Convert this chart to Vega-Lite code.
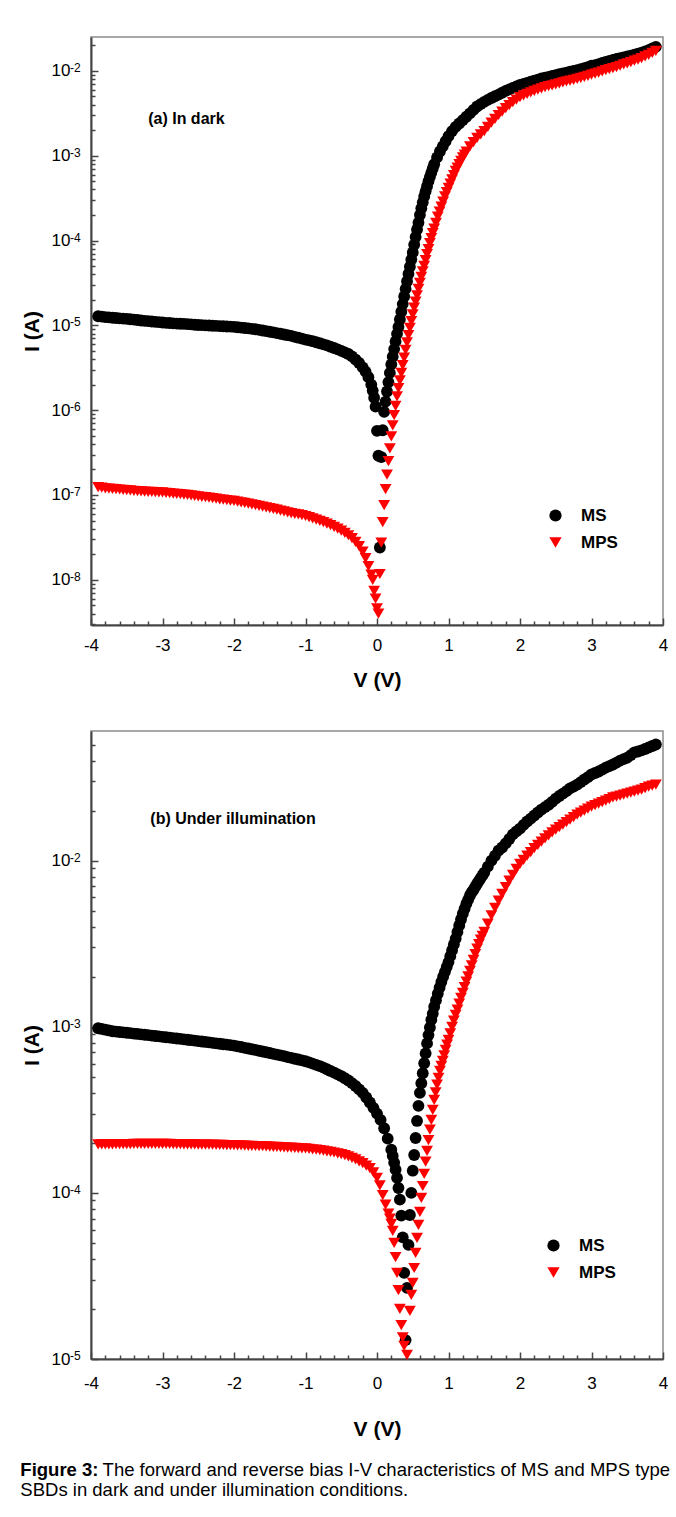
{
  "$schema": "https://vega.github.io/schema/vega-lite/v6.json",
  "padding": {"left": 20, "top": 36, "right": 5, "bottom": 5},
  "background": "white",
  "config": {
    "font": "Liberation Sans",
    "view": {"stroke": "#8c8c8c", "strokeWidth": 1.5},
    "axis": {"grid": false, "domainColor": "#444", "domainWidth": 2, "tickColor": "#444", "tickWidth": 1.5, "labelColor": "#000", "labelFontSize": 17, "labelFont": "Liberation Sans", "titleFont": "Liberation Sans", "titleFontSize": 21, "titleFontWeight": "bold", "titleColor": "#000", "labelFlush": false, "labelOverlap": false, "labelBound": false}
  },
  "title": {
    "text": "Figure 3:",
    "subtitle": ["\u200b\u00a0\u00a0\u00a0\u00a0\u00a0\u00a0\u00a0\u00a0\u00a0\u00a0\u00a0\u00a0\u00a0\u00a0\u00a0\u00a0The forward and reverse bias I-V characteristics of MS and MPS type", "SBDs in dark and under illumination conditions."],
    "orient": "bottom", "anchor": "start", "frame": "bounds",
    "font": "Liberation Sans", "fontSize": 18.5, "fontWeight": "bold", "color": "#000",
    "subtitleFont": "Liberation Sans", "subtitleFontSize": 18.5, "subtitleFontWeight": "normal", "subtitleColor": "#000",
    "subtitlePadding": -18.5, "subtitleLineHeight": 20, "lineHeight": 20, "offset": 21
  },
  "spacing": 39,
  "resolve": {"scale": {"color": "independent", "shape": "independent"}},
  "datasets": {
    "ea": [{"e":1e-8,"t":"-8"},{"e":1e-7,"t":"-7"},{"e":1e-6,"t":"-6"},{"e":1e-5,"t":"-5"},{"e":1e-4,"t":"-4"},{"e":1e-3,"t":"-3"},{"e":1e-2,"t":"-2"}],
    "eb": [{"e":1e-5,"t":"-5"},{"e":1e-4,"t":"-4"},{"e":1e-3,"t":"-3"},{"e":1e-2,"t":"-2"}],
    "a": [
      {"s":"MS","v":-3.9,"i":1.28e-5},{"s":"MS","v":-3.85,"i":1.265e-5},{"s":"MS","v":-3.8,"i":1.25e-5},{"s":"MS","v":-3.75,"i":1.24e-5},{"s":"MS","v":-3.7,"i":1.23e-5},{"s":"MS","v":-3.65,"i":1.22e-5},{"s":"MS","v":-3.6,"i":1.21e-5},{"s":"MS","v":-3.55,"i":1.2e-5},{"s":"MS","v":-3.5,"i":1.19e-5},{"s":"MS","v":-3.45,"i":1.18e-5},
      {"s":"MS","v":-3.4,"i":1.17e-5},{"s":"MS","v":-3.35,"i":1.155e-5},{"s":"MS","v":-3.3,"i":1.14e-5},{"s":"MS","v":-3.25,"i":1.13e-5},{"s":"MS","v":-3.2,"i":1.12e-5},{"s":"MS","v":-3.15,"i":1.11e-5},{"s":"MS","v":-3.1,"i":1.10e-5},{"s":"MS","v":-3.05,"i":1.09e-5},{"s":"MS","v":-3.0,"i":1.08e-5},{"s":"MS","v":-2.95,"i":1.07e-5},
      {"s":"MS","v":-2.9,"i":1.065e-5},{"s":"MS","v":-2.85,"i":1.057e-5},{"s":"MS","v":-2.8,"i":1.05e-5},{"s":"MS","v":-2.75,"i":1.045e-5},{"s":"MS","v":-2.7,"i":1.04e-5},{"s":"MS","v":-2.65,"i":1.032e-5},{"s":"MS","v":-2.6,"i":1.025e-5},{"s":"MS","v":-2.55,"i":1.017e-5},{"s":"MS","v":-2.5,"i":1.01e-5},{"s":"MS","v":-2.45,"i":1.005e-5},
      {"s":"MS","v":-2.4,"i":1.0e-5},{"s":"MS","v":-2.35,"i":9.95e-6},{"s":"MS","v":-2.3,"i":9.9e-6},{"s":"MS","v":-2.25,"i":9.85e-6},{"s":"MS","v":-2.2,"i":9.8e-6},{"s":"MS","v":-2.15,"i":9.75e-6},{"s":"MS","v":-2.1,"i":9.7e-6},{"s":"MS","v":-2.05,"i":9.65e-6},{"s":"MS","v":-2.0,"i":9.6e-6},{"s":"MS","v":-1.95,"i":9.5e-6},
      {"s":"MS","v":-1.9,"i":9.4e-6},{"s":"MS","v":-1.85,"i":9.3e-6},{"s":"MS","v":-1.8,"i":9.2e-6},{"s":"MS","v":-1.75,"i":9.1e-6},{"s":"MS","v":-1.7,"i":9.0e-6},{"s":"MS","v":-1.65,"i":8.85e-6},{"s":"MS","v":-1.6,"i":8.7e-6},{"s":"MS","v":-1.55,"i":8.55e-6},{"s":"MS","v":-1.5,"i":8.4e-6},{"s":"MS","v":-1.45,"i":8.25e-6},
      {"s":"MS","v":-1.4,"i":8.1e-6},{"s":"MS","v":-1.35,"i":7.95e-6},{"s":"MS","v":-1.3,"i":7.8e-6},{"s":"MS","v":-1.25,"i":7.65e-6},{"s":"MS","v":-1.2,"i":7.5e-6},{"s":"MS","v":-1.15,"i":7.3e-6},{"s":"MS","v":-1.1,"i":7.15e-6},{"s":"MS","v":-1.05,"i":6.97e-6},{"s":"MS","v":-1.0,"i":6.8e-6},{"s":"MS","v":-0.95,"i":6.65e-6},
      {"s":"MS","v":-0.9,"i":6.5e-6},{"s":"MS","v":-0.85,"i":6.32e-6},{"s":"MS","v":-0.8,"i":6.15e-6},{"s":"MS","v":-0.75,"i":5.97e-6},{"s":"MS","v":-0.7,"i":5.8e-6},{"s":"MS","v":-0.65,"i":5.6e-6},{"s":"MS","v":-0.6,"i":5.4e-6},{"s":"MS","v":-0.55,"i":5.2e-6},{"s":"MS","v":-0.5,"i":5.0e-6},{"s":"MS","v":-0.45,"i":4.8e-6},
      {"s":"MS","v":-0.4,"i":4.6e-6},{"s":"MS","v":-0.35,"i":4.3e-6},{"s":"MS","v":-0.3,"i":3.95e-6},{"s":"MS","v":-0.25,"i":3.6e-6},{"s":"MS","v":-0.2,"i":3.2e-6},{"s":"MS","v":-0.16,"i":2.85e-6},{"s":"MS","v":-0.12,"i":2.45e-6},{"s":"MS","v":-0.08,"i":2.0e-6},{"s":"MS","v":-0.06,"i":1.7e-6},{"s":"MS","v":-0.04,"i":1.4e-6},
      {"s":"MS","v":-0.02,"i":1.1e-6},{"s":"MS","v":0.0,"i":5.7e-7},{"s":"MS","v":0.02,"i":2.9e-7},{"s":"MS","v":0.04,"i":2.4e-8},{"s":"MS","v":0.06,"i":2.8e-7},{"s":"MS","v":0.08,"i":5.8e-7},{"s":"MS","v":0.1,"i":9.55e-7},{"s":"MS","v":0.12,"i":1.26e-6},{"s":"MS","v":0.14,"i":1.66e-6},{"s":"MS","v":0.16,"i":2.14e-6},
      {"s":"MS","v":0.18,"i":2.75e-6},{"s":"MS","v":0.2,"i":3.47e-6},{"s":"MS","v":0.22,"i":4.27e-6},{"s":"MS","v":0.24,"i":5.25e-6},{"s":"MS","v":0.26,"i":6.46e-6},{"s":"MS","v":0.28,"i":7.94e-6},{"s":"MS","v":0.3,"i":9.55e-6},{"s":"MS","v":0.32,"i":1.175e-5},{"s":"MS","v":0.34,"i":1.445e-5},{"s":"MS","v":0.36,"i":1.78e-5},
      {"s":"MS","v":0.38,"i":2.19e-5},{"s":"MS","v":0.4,"i":2.69e-5},{"s":"MS","v":0.42,"i":3.31e-5},{"s":"MS","v":0.44,"i":4.03e-5},{"s":"MS","v":0.46,"i":4.9e-5},{"s":"MS","v":0.48,"i":5.96e-5},{"s":"MS","v":0.5,"i":7.24e-5},{"s":"MS","v":0.52,"i":8.91e-5},{"s":"MS","v":0.54,"i":1.1e-4},{"s":"MS","v":0.56,"i":1.35e-4},
      {"s":"MS","v":0.58,"i":1.62e-4},{"s":"MS","v":0.6,"i":2.0e-4},{"s":"MS","v":0.62,"i":2.4e-4},{"s":"MS","v":0.64,"i":2.82e-4},{"s":"MS","v":0.66,"i":3.31e-4},{"s":"MS","v":0.68,"i":3.8e-4},{"s":"MS","v":0.7,"i":4.37e-4},{"s":"MS","v":0.72,"i":5.01e-4},{"s":"MS","v":0.74,"i":5.62e-4},{"s":"MS","v":0.76,"i":6.31e-4},
      {"s":"MS","v":0.78,"i":7.08e-4},{"s":"MS","v":0.8,"i":7.94e-4},{"s":"MS","v":0.84,"i":9.55e-4},{"s":"MS","v":0.88,"i":1.12e-3},{"s":"MS","v":0.92,"i":1.29e-3},{"s":"MS","v":0.96,"i":1.48e-3},{"s":"MS","v":1.0,"i":1.7e-3},{"s":"MS","v":1.05,"i":1.95e-3},{"s":"MS","v":1.1,"i":2.19e-3},{"s":"MS","v":1.15,"i":2.4e-3},
      {"s":"MS","v":1.2,"i":2.63e-3},{"s":"MS","v":1.25,"i":2.88e-3},{"s":"MS","v":1.3,"i":3.16e-3},{"s":"MS","v":1.35,"i":3.47e-3},{"s":"MS","v":1.4,"i":3.8e-3},{"s":"MS","v":1.45,"i":4.06e-3},{"s":"MS","v":1.5,"i":4.32e-3},{"s":"MS","v":1.55,"i":4.55e-3},{"s":"MS","v":1.6,"i":4.79e-3},{"s":"MS","v":1.65,"i":5.02e-3},
      {"s":"MS","v":1.7,"i":5.25e-3},{"s":"MS","v":1.75,"i":5.53e-3},{"s":"MS","v":1.8,"i":5.81e-3},{"s":"MS","v":1.85,"i":6.06e-3},{"s":"MS","v":1.9,"i":6.31e-3},{"s":"MS","v":1.95,"i":6.57e-3},{"s":"MS","v":2.0,"i":6.84e-3},{"s":"MS","v":2.05,"i":7.04e-3},{"s":"MS","v":2.1,"i":7.24e-3},{"s":"MS","v":2.15,"i":7.45e-3},
      {"s":"MS","v":2.2,"i":7.67e-3},{"s":"MS","v":2.25,"i":7.9e-3},{"s":"MS","v":2.3,"i":8.13e-3},{"s":"MS","v":2.35,"i":8.32e-3},{"s":"MS","v":2.4,"i":8.51e-3},{"s":"MS","v":2.45,"i":8.71e-3},{"s":"MS","v":2.5,"i":8.91e-3},{"s":"MS","v":2.55,"i":9.12e-3},{"s":"MS","v":2.6,"i":9.33e-3},{"s":"MS","v":2.65,"i":9.55e-3},
      {"s":"MS","v":2.7,"i":9.77e-3},{"s":"MS","v":2.75,"i":1.0e-2},{"s":"MS","v":2.8,"i":1.023e-2},{"s":"MS","v":2.85,"i":1.05e-2},{"s":"MS","v":2.9,"i":1.08e-2},{"s":"MS","v":2.95,"i":1.11e-2},{"s":"MS","v":3.0,"i":1.15e-2},{"s":"MS","v":3.05,"i":1.17e-2},{"s":"MS","v":3.1,"i":1.2e-2},{"s":"MS","v":3.15,"i":1.24e-2},
      {"s":"MS","v":3.2,"i":1.28e-2},{"s":"MS","v":3.25,"i":1.31e-2},{"s":"MS","v":3.3,"i":1.35e-2},{"s":"MS","v":3.35,"i":1.38e-2},{"s":"MS","v":3.4,"i":1.41e-2},{"s":"MS","v":3.45,"i":1.44e-2},{"s":"MS","v":3.5,"i":1.48e-2},{"s":"MS","v":3.55,"i":1.51e-2},{"s":"MS","v":3.6,"i":1.55e-2},{"s":"MS","v":3.65,"i":1.6e-2},
      {"s":"MS","v":3.7,"i":1.64e-2},{"s":"MS","v":3.75,"i":1.7e-2},{"s":"MS","v":3.8,"i":1.76e-2},{"s":"MS","v":3.85,"i":1.84e-2},{"s":"MS","v":3.9,"i":1.92e-2},
      {"s":"MPS","v":-3.9,"i":1.24e-7},{"s":"MPS","v":-3.85,"i":1.22e-7},{"s":"MPS","v":-3.8,"i":1.2e-7},{"s":"MPS","v":-3.75,"i":1.19e-7},{"s":"MPS","v":-3.7,"i":1.18e-7},{"s":"MPS","v":-3.65,"i":1.17e-7},{"s":"MPS","v":-3.6,"i":1.16e-7},{"s":"MPS","v":-3.55,"i":1.15e-7},{"s":"MPS","v":-3.5,"i":1.14e-7},{"s":"MPS","v":-3.45,"i":1.13e-7},
      {"s":"MPS","v":-3.4,"i":1.12e-7},{"s":"MPS","v":-3.35,"i":1.11e-7},{"s":"MPS","v":-3.3,"i":1.1e-7},{"s":"MPS","v":-3.25,"i":1.095e-7},{"s":"MPS","v":-3.2,"i":1.09e-7},{"s":"MPS","v":-3.15,"i":1.085e-7},{"s":"MPS","v":-3.1,"i":1.08e-7},{"s":"MPS","v":-3.05,"i":1.075e-7},{"s":"MPS","v":-3.0,"i":1.07e-7},{"s":"MPS","v":-2.95,"i":1.06e-7},
      {"s":"MPS","v":-2.9,"i":1.05e-7},{"s":"MPS","v":-2.85,"i":1.04e-7},{"s":"MPS","v":-2.8,"i":1.03e-7},{"s":"MPS","v":-2.75,"i":1.02e-7},{"s":"MPS","v":-2.7,"i":1.01e-7},{"s":"MPS","v":-2.65,"i":1.0e-7},{"s":"MPS","v":-2.6,"i":9.9e-8},{"s":"MPS","v":-2.55,"i":9.75e-8},{"s":"MPS","v":-2.5,"i":9.6e-8},{"s":"MPS","v":-2.45,"i":9.5e-8},
      {"s":"MPS","v":-2.4,"i":9.4e-8},{"s":"MPS","v":-2.35,"i":9.3e-8},{"s":"MPS","v":-2.3,"i":9.2e-8},{"s":"MPS","v":-2.25,"i":9.05e-8},{"s":"MPS","v":-2.2,"i":8.9e-8},{"s":"MPS","v":-2.15,"i":8.8e-8},{"s":"MPS","v":-2.1,"i":8.7e-8},{"s":"MPS","v":-2.05,"i":8.6e-8},{"s":"MPS","v":-2.0,"i":8.5e-8},{"s":"MPS","v":-1.95,"i":8.35e-8},
      {"s":"MPS","v":-1.9,"i":8.2e-8},{"s":"MPS","v":-1.85,"i":8.05e-8},{"s":"MPS","v":-1.8,"i":7.9e-8},{"s":"MPS","v":-1.75,"i":7.75e-8},{"s":"MPS","v":-1.7,"i":7.6e-8},{"s":"MPS","v":-1.65,"i":7.45e-8},{"s":"MPS","v":-1.6,"i":7.3e-8},{"s":"MPS","v":-1.55,"i":7.15e-8},{"s":"MPS","v":-1.5,"i":7.0e-8},{"s":"MPS","v":-1.45,"i":6.85e-8},
      {"s":"MPS","v":-1.4,"i":6.7e-8},{"s":"MPS","v":-1.35,"i":6.55e-8},{"s":"MPS","v":-1.3,"i":6.4e-8},{"s":"MPS","v":-1.25,"i":6.25e-8},{"s":"MPS","v":-1.2,"i":6.1e-8},{"s":"MPS","v":-1.15,"i":6.0e-8},{"s":"MPS","v":-1.1,"i":5.9e-8},{"s":"MPS","v":-1.05,"i":5.77e-8},{"s":"MPS","v":-1.0,"i":5.65e-8},{"s":"MPS","v":-0.95,"i":5.47e-8},
      {"s":"MPS","v":-0.9,"i":5.3e-8},{"s":"MPS","v":-0.85,"i":5.12e-8},{"s":"MPS","v":-0.8,"i":4.95e-8},{"s":"MPS","v":-0.75,"i":4.77e-8},{"s":"MPS","v":-0.7,"i":4.6e-8},{"s":"MPS","v":-0.65,"i":4.4e-8},{"s":"MPS","v":-0.6,"i":4.2e-8},{"s":"MPS","v":-0.55,"i":4.0e-8},{"s":"MPS","v":-0.5,"i":3.8e-8},{"s":"MPS","v":-0.45,"i":3.57e-8},
      {"s":"MPS","v":-0.4,"i":3.35e-8},{"s":"MPS","v":-0.35,"i":3.1e-8},{"s":"MPS","v":-0.3,"i":2.8e-8},{"s":"MPS","v":-0.25,"i":2.5e-8},{"s":"MPS","v":-0.2,"i":2.15e-8},{"s":"MPS","v":-0.16,"i":1.8e-8},{"s":"MPS","v":-0.12,"i":1.45e-8},{"s":"MPS","v":-0.08,"i":1.15e-8},{"s":"MPS","v":-0.06,"i":1.0e-8},{"s":"MPS","v":-0.04,"i":7.4e-9},
      {"s":"MPS","v":-0.02,"i":6.0e-9},{"s":"MPS","v":0.0,"i":4.6e-9},{"s":"MPS","v":0.02,"i":4.0e-9},{"s":"MPS","v":0.04,"i":1.17e-8},{"s":"MPS","v":0.06,"i":2.75e-8},{"s":"MPS","v":0.08,"i":4.79e-8},{"s":"MPS","v":0.1,"i":7.59e-8},{"s":"MPS","v":0.12,"i":1.17e-7},{"s":"MPS","v":0.14,"i":1.74e-7},{"s":"MPS","v":0.16,"i":2.51e-7},
      {"s":"MPS","v":0.18,"i":3.55e-7},{"s":"MPS","v":0.2,"i":4.9e-7},{"s":"MPS","v":0.22,"i":6.61e-7},{"s":"MPS","v":0.24,"i":8.71e-7},{"s":"MPS","v":0.26,"i":1.12e-6},{"s":"MPS","v":0.28,"i":1.45e-6},{"s":"MPS","v":0.3,"i":1.82e-6},{"s":"MPS","v":0.32,"i":2.24e-6},{"s":"MPS","v":0.34,"i":2.75e-6},{"s":"MPS","v":0.36,"i":3.39e-6},
      {"s":"MPS","v":0.38,"i":4.17e-6},{"s":"MPS","v":0.4,"i":5.13e-6},{"s":"MPS","v":0.42,"i":6.31e-6},{"s":"MPS","v":0.44,"i":7.67e-6},{"s":"MPS","v":0.46,"i":9.33e-6},{"s":"MPS","v":0.48,"i":1.12e-5},{"s":"MPS","v":0.5,"i":1.35e-5},{"s":"MPS","v":0.52,"i":1.62e-5},{"s":"MPS","v":0.54,"i":1.91e-5},{"s":"MPS","v":0.56,"i":2.26e-5},
      {"s":"MPS","v":0.58,"i":2.69e-5},{"s":"MPS","v":0.6,"i":3.16e-5},{"s":"MPS","v":0.62,"i":3.72e-5},{"s":"MPS","v":0.64,"i":4.32e-5},{"s":"MPS","v":0.66,"i":5.01e-5},{"s":"MPS","v":0.68,"i":5.89e-5},{"s":"MPS","v":0.7,"i":6.92e-5},{"s":"MPS","v":0.72,"i":7.94e-5},{"s":"MPS","v":0.74,"i":9.33e-5},{"s":"MPS","v":0.76,"i":1.07e-4},
      {"s":"MPS","v":0.78,"i":1.22e-4},{"s":"MPS","v":0.8,"i":1.38e-4},{"s":"MPS","v":0.825,"i":1.62e-4},{"s":"MPS","v":0.85,"i":1.91e-4},{"s":"MPS","v":0.875,"i":2.19e-4},{"s":"MPS","v":0.9,"i":2.51e-4},{"s":"MPS","v":0.925,"i":2.88e-4},{"s":"MPS","v":0.95,"i":3.31e-4},{"s":"MPS","v":0.975,"i":3.72e-4},{"s":"MPS","v":1.0,"i":4.17e-4},
      {"s":"MPS","v":1.025,"i":4.68e-4},{"s":"MPS","v":1.05,"i":5.25e-4},{"s":"MPS","v":1.075,"i":5.89e-4},{"s":"MPS","v":1.1,"i":6.61e-4},{"s":"MPS","v":1.125,"i":7.24e-4},{"s":"MPS","v":1.15,"i":7.94e-4},{"s":"MPS","v":1.175,"i":8.71e-4},{"s":"MPS","v":1.2,"i":9.55e-4},{"s":"MPS","v":1.225,"i":1.03e-3},{"s":"MPS","v":1.25,"i":1.12e-3},
      {"s":"MPS","v":1.3,"i":1.29e-3},{"s":"MPS","v":1.35,"i":1.45e-3},{"s":"MPS","v":1.4,"i":1.62e-3},{"s":"MPS","v":1.45,"i":1.78e-3},{"s":"MPS","v":1.5,"i":1.95e-3},{"s":"MPS","v":1.55,"i":2.19e-3},{"s":"MPS","v":1.6,"i":2.45e-3},{"s":"MPS","v":1.65,"i":2.72e-3},{"s":"MPS","v":1.7,"i":3.02e-3},{"s":"MPS","v":1.75,"i":3.31e-3},
      {"s":"MPS","v":1.8,"i":3.63e-3},{"s":"MPS","v":1.85,"i":3.94e-3},{"s":"MPS","v":1.9,"i":4.27e-3},{"s":"MPS","v":1.95,"i":4.57e-3},{"s":"MPS","v":2.0,"i":4.9e-3},{"s":"MPS","v":2.05,"i":5.13e-3},{"s":"MPS","v":2.1,"i":5.37e-3},{"s":"MPS","v":2.15,"i":5.6e-3},{"s":"MPS","v":2.2,"i":5.82e-3},{"s":"MPS","v":2.25,"i":6.03e-3},
      {"s":"MPS","v":2.3,"i":6.24e-3},{"s":"MPS","v":2.35,"i":6.42e-3},{"s":"MPS","v":2.4,"i":6.61e-3},{"s":"MPS","v":2.45,"i":6.76e-3},{"s":"MPS","v":2.5,"i":6.92e-3},{"s":"MPS","v":2.55,"i":7.12e-3},{"s":"MPS","v":2.6,"i":7.33e-3},{"s":"MPS","v":2.65,"i":7.5e-3},{"s":"MPS","v":2.7,"i":7.67e-3},{"s":"MPS","v":2.75,"i":7.86e-3},
      {"s":"MPS","v":2.8,"i":8.05e-3},{"s":"MPS","v":2.85,"i":8.28e-3},{"s":"MPS","v":2.9,"i":8.51e-3},{"s":"MPS","v":2.95,"i":8.76e-3},{"s":"MPS","v":3.0,"i":9.02e-3},{"s":"MPS","v":3.05,"i":9.28e-3},{"s":"MPS","v":3.1,"i":9.55e-3},{"s":"MPS","v":3.15,"i":9.87e-3},{"s":"MPS","v":3.2,"i":1.02e-2},{"s":"MPS","v":3.25,"i":1.05e-2},
      {"s":"MPS","v":3.3,"i":1.08e-2},{"s":"MPS","v":3.35,"i":1.11e-2},{"s":"MPS","v":3.4,"i":1.15e-2},{"s":"MPS","v":3.45,"i":1.19e-2},{"s":"MPS","v":3.5,"i":1.23e-2},{"s":"MPS","v":3.55,"i":1.27e-2},{"s":"MPS","v":3.6,"i":1.32e-2},{"s":"MPS","v":3.65,"i":1.36e-2},{"s":"MPS","v":3.7,"i":1.41e-2},{"s":"MPS","v":3.75,"i":1.48e-2},
      {"s":"MPS","v":3.8,"i":1.55e-2},{"s":"MPS","v":3.85,"i":1.63e-2},{"s":"MPS","v":3.9,"i":1.72e-2}
    ],
    "b": [
      {"s":"MS","v":-3.9,"i":9.8e-4},{"s":"MS","v":-3.85,"i":9.7e-4},{"s":"MS","v":-3.8,"i":9.6e-4},{"s":"MS","v":-3.75,"i":9.5e-4},{"s":"MS","v":-3.7,"i":9.4e-4},{"s":"MS","v":-3.65,"i":9.35e-4},{"s":"MS","v":-3.6,"i":9.3e-4},{"s":"MS","v":-3.55,"i":9.25e-4},{"s":"MS","v":-3.5,"i":9.2e-4},{"s":"MS","v":-3.45,"i":9.15e-4},
      {"s":"MS","v":-3.4,"i":9.1e-4},{"s":"MS","v":-3.35,"i":9.05e-4},{"s":"MS","v":-3.3,"i":9.0e-4},{"s":"MS","v":-3.25,"i":8.95e-4},{"s":"MS","v":-3.2,"i":8.9e-4},{"s":"MS","v":-3.15,"i":8.85e-4},{"s":"MS","v":-3.1,"i":8.8e-4},{"s":"MS","v":-3.05,"i":8.75e-4},{"s":"MS","v":-3.0,"i":8.7e-4},{"s":"MS","v":-2.95,"i":8.65e-4},
      {"s":"MS","v":-2.9,"i":8.6e-4},{"s":"MS","v":-2.85,"i":8.55e-4},{"s":"MS","v":-2.8,"i":8.5e-4},{"s":"MS","v":-2.75,"i":8.45e-4},{"s":"MS","v":-2.7,"i":8.4e-4},{"s":"MS","v":-2.65,"i":8.35e-4},{"s":"MS","v":-2.6,"i":8.3e-4},{"s":"MS","v":-2.55,"i":8.25e-4},{"s":"MS","v":-2.5,"i":8.2e-4},{"s":"MS","v":-2.45,"i":8.15e-4},
      {"s":"MS","v":-2.4,"i":8.1e-4},{"s":"MS","v":-2.35,"i":8.05e-4},{"s":"MS","v":-2.3,"i":8.0e-4},{"s":"MS","v":-2.25,"i":7.95e-4},{"s":"MS","v":-2.2,"i":7.9e-4},{"s":"MS","v":-2.15,"i":7.85e-4},{"s":"MS","v":-2.1,"i":7.8e-4},{"s":"MS","v":-2.05,"i":7.75e-4},{"s":"MS","v":-2.0,"i":7.7e-4},{"s":"MS","v":-1.95,"i":7.62e-4},
      {"s":"MS","v":-1.9,"i":7.55e-4},{"s":"MS","v":-1.85,"i":7.47e-4},{"s":"MS","v":-1.8,"i":7.4e-4},{"s":"MS","v":-1.75,"i":7.32e-4},{"s":"MS","v":-1.7,"i":7.25e-4},{"s":"MS","v":-1.65,"i":7.17e-4},{"s":"MS","v":-1.6,"i":7.1e-4},{"s":"MS","v":-1.55,"i":7.02e-4},{"s":"MS","v":-1.5,"i":6.95e-4},{"s":"MS","v":-1.45,"i":6.87e-4},
      {"s":"MS","v":-1.4,"i":6.8e-4},{"s":"MS","v":-1.35,"i":6.72e-4},{"s":"MS","v":-1.3,"i":6.65e-4},{"s":"MS","v":-1.25,"i":6.57e-4},{"s":"MS","v":-1.2,"i":6.5e-4},{"s":"MS","v":-1.15,"i":6.42e-4},{"s":"MS","v":-1.1,"i":6.35e-4},{"s":"MS","v":-1.05,"i":6.27e-4},{"s":"MS","v":-1.0,"i":6.2e-4},{"s":"MS","v":-0.95,"i":6.1e-4},
      {"s":"MS","v":-0.9,"i":6.0e-4},{"s":"MS","v":-0.85,"i":5.9e-4},{"s":"MS","v":-0.8,"i":5.8e-4},{"s":"MS","v":-0.75,"i":5.67e-4},{"s":"MS","v":-0.7,"i":5.55e-4},{"s":"MS","v":-0.65,"i":5.42e-4},{"s":"MS","v":-0.6,"i":5.3e-4},{"s":"MS","v":-0.55,"i":5.17e-4},{"s":"MS","v":-0.5,"i":5.05e-4},{"s":"MS","v":-0.45,"i":4.9e-4},
      {"s":"MS","v":-0.4,"i":4.75e-4},{"s":"MS","v":-0.35,"i":4.58e-4},{"s":"MS","v":-0.3,"i":4.4e-4},{"s":"MS","v":-0.25,"i":4.2e-4},{"s":"MS","v":-0.2,"i":4.0e-4},{"s":"MS","v":-0.15,"i":3.75e-4},{"s":"MS","v":-0.1,"i":3.5e-4},{"s":"MS","v":-0.05,"i":3.25e-4},{"s":"MS","v":0.0,"i":3.0e-4},{"s":"MS","v":0.05,"i":2.75e-4},
      {"s":"MS","v":0.1,"i":2.45e-4},{"s":"MS","v":0.15,"i":2.12e-4},{"s":"MS","v":0.2,"i":1.82e-4},{"s":"MS","v":0.22,"i":1.67e-4},{"s":"MS","v":0.24,"i":1.52e-4},{"s":"MS","v":0.26,"i":1.38e-4},{"s":"MS","v":0.28,"i":1.23e-4},{"s":"MS","v":0.3,"i":1.07e-4},{"s":"MS","v":0.32,"i":9.1e-5},{"s":"MS","v":0.34,"i":7.3e-5},
      {"s":"MS","v":0.36,"i":5.4e-5},{"s":"MS","v":0.38,"i":3.3e-5},{"s":"MS","v":0.4,"i":1.3e-5},{"s":"MS","v":0.42,"i":2.68e-5},{"s":"MS","v":0.44,"i":4.86e-5},{"s":"MS","v":0.46,"i":7.36e-5},{"s":"MS","v":0.48,"i":1.0e-4},{"s":"MS","v":0.5,"i":1.36e-4},{"s":"MS","v":0.52,"i":1.69e-4},{"s":"MS","v":0.54,"i":2.14e-4},
      {"s":"MS","v":0.56,"i":2.71e-4},{"s":"MS","v":0.58,"i":3.34e-4},{"s":"MS","v":0.6,"i":4.0e-4},{"s":"MS","v":0.62,"i":4.57e-4},{"s":"MS","v":0.64,"i":5.25e-4},{"s":"MS","v":0.66,"i":6.03e-4},{"s":"MS","v":0.68,"i":6.92e-4},{"s":"MS","v":0.7,"i":7.94e-4},{"s":"MS","v":0.72,"i":8.91e-4},{"s":"MS","v":0.74,"i":9.89e-4},
      {"s":"MS","v":0.76,"i":1.1e-3},{"s":"MS","v":0.78,"i":1.2e-3},{"s":"MS","v":0.8,"i":1.32e-3},{"s":"MS","v":0.825,"i":1.445e-3},{"s":"MS","v":0.85,"i":1.58e-3},{"s":"MS","v":0.875,"i":1.72e-3},{"s":"MS","v":0.9,"i":1.86e-3},{"s":"MS","v":0.925,"i":2.0e-3},{"s":"MS","v":0.95,"i":2.14e-3},{"s":"MS","v":0.975,"i":2.29e-3},
      {"s":"MS","v":1.0,"i":2.45e-3},{"s":"MS","v":1.025,"i":2.66e-3},{"s":"MS","v":1.05,"i":2.88e-3},{"s":"MS","v":1.075,"i":3.13e-3},{"s":"MS","v":1.1,"i":3.39e-3},{"s":"MS","v":1.125,"i":3.72e-3},{"s":"MS","v":1.15,"i":4.07e-3},{"s":"MS","v":1.175,"i":4.42e-3},{"s":"MS","v":1.2,"i":4.79e-3},{"s":"MS","v":1.225,"i":5.13e-3},
      {"s":"MS","v":1.25,"i":5.5e-3},{"s":"MS","v":1.275,"i":5.82e-3},{"s":"MS","v":1.3,"i":6.17e-3},{"s":"MS","v":1.325,"i":6.46e-3},{"s":"MS","v":1.35,"i":6.68e-3},{"s":"MS","v":1.375,"i":6.97e-3},{"s":"MS","v":1.4,"i":7.26e-3},{"s":"MS","v":1.425,"i":7.55e-3},{"s":"MS","v":1.45,"i":7.85e-3},{"s":"MS","v":1.475,"i":8.15e-3},
      {"s":"MS","v":1.5,"i":8.47e-3},{"s":"MS","v":1.55,"i":9.2e-3},{"s":"MS","v":1.6,"i":1.0e-2},{"s":"MS","v":1.65,"i":1.07e-2},{"s":"MS","v":1.7,"i":1.15e-2},{"s":"MS","v":1.75,"i":1.2e-2},{"s":"MS","v":1.8,"i":1.27e-2},{"s":"MS","v":1.85,"i":1.35e-2},{"s":"MS","v":1.9,"i":1.44e-2},{"s":"MS","v":1.95,"i":1.5e-2},
      {"s":"MS","v":2.0,"i":1.56e-2},{"s":"MS","v":2.05,"i":1.64e-2},{"s":"MS","v":2.1,"i":1.72e-2},{"s":"MS","v":2.15,"i":1.79e-2},{"s":"MS","v":2.2,"i":1.87e-2},{"s":"MS","v":2.25,"i":1.95e-2},{"s":"MS","v":2.3,"i":2.03e-2},{"s":"MS","v":2.35,"i":2.1e-2},{"s":"MS","v":2.4,"i":2.17e-2},{"s":"MS","v":2.45,"i":2.26e-2},
      {"s":"MS","v":2.5,"i":2.36e-2},{"s":"MS","v":2.55,"i":2.45e-2},{"s":"MS","v":2.6,"i":2.53e-2},{"s":"MS","v":2.65,"i":2.62e-2},{"s":"MS","v":2.7,"i":2.72e-2},{"s":"MS","v":2.75,"i":2.79e-2},{"s":"MS","v":2.8,"i":2.87e-2},{"s":"MS","v":2.85,"i":2.97e-2},{"s":"MS","v":2.9,"i":3.08e-2},{"s":"MS","v":2.95,"i":3.18e-2},
      {"s":"MS","v":3.0,"i":3.3e-2},{"s":"MS","v":3.05,"i":3.37e-2},{"s":"MS","v":3.1,"i":3.44e-2},{"s":"MS","v":3.15,"i":3.53e-2},{"s":"MS","v":3.2,"i":3.63e-2},{"s":"MS","v":3.25,"i":3.71e-2},{"s":"MS","v":3.3,"i":3.79e-2},{"s":"MS","v":3.35,"i":3.89e-2},{"s":"MS","v":3.4,"i":4.0e-2},{"s":"MS","v":3.45,"i":4.08e-2},
      {"s":"MS","v":3.5,"i":4.17e-2},{"s":"MS","v":3.55,"i":4.32e-2},{"s":"MS","v":3.6,"i":4.48e-2},{"s":"MS","v":3.65,"i":4.54e-2},{"s":"MS","v":3.7,"i":4.61e-2},{"s":"MS","v":3.75,"i":4.7e-2},{"s":"MS","v":3.8,"i":4.8e-2},{"s":"MS","v":3.85,"i":4.9e-2},{"s":"MS","v":3.9,"i":5.0e-2},
      {"s":"MPS","v":-3.9,"i":1.96e-4},{"s":"MPS","v":-3.85,"i":1.96e-4},{"s":"MPS","v":-3.8,"i":1.96e-4},{"s":"MPS","v":-3.75,"i":1.96e-4},{"s":"MPS","v":-3.7,"i":1.96e-4},{"s":"MPS","v":-3.65,"i":1.963e-4},{"s":"MPS","v":-3.6,"i":1.965e-4},{"s":"MPS","v":-3.55,"i":1.965e-4},{"s":"MPS","v":-3.5,"i":1.965e-4},{"s":"MPS","v":-3.45,"i":1.968e-4},
      {"s":"MPS","v":-3.4,"i":1.97e-4},{"s":"MPS","v":-3.35,"i":1.97e-4},{"s":"MPS","v":-3.3,"i":1.97e-4},{"s":"MPS","v":-3.25,"i":1.97e-4},{"s":"MPS","v":-3.2,"i":1.97e-4},{"s":"MPS","v":-3.15,"i":1.97e-4},{"s":"MPS","v":-3.1,"i":1.97e-4},{"s":"MPS","v":-3.05,"i":1.97e-4},{"s":"MPS","v":-3.0,"i":1.97e-4},{"s":"MPS","v":-2.95,"i":1.97e-4},
      {"s":"MPS","v":-2.9,"i":1.97e-4},{"s":"MPS","v":-2.85,"i":1.968e-4},{"s":"MPS","v":-2.8,"i":1.965e-4},{"s":"MPS","v":-2.75,"i":1.963e-4},{"s":"MPS","v":-2.7,"i":1.96e-4},{"s":"MPS","v":-2.65,"i":1.96e-4},{"s":"MPS","v":-2.6,"i":1.96e-4},{"s":"MPS","v":-2.55,"i":1.958e-4},{"s":"MPS","v":-2.5,"i":1.955e-4},{"s":"MPS","v":-2.45,"i":1.953e-4},
      {"s":"MPS","v":-2.4,"i":1.95e-4},{"s":"MPS","v":-2.35,"i":1.95e-4},{"s":"MPS","v":-2.3,"i":1.95e-4},{"s":"MPS","v":-2.25,"i":1.948e-4},{"s":"MPS","v":-2.2,"i":1.945e-4},{"s":"MPS","v":-2.15,"i":1.943e-4},{"s":"MPS","v":-2.1,"i":1.94e-4},{"s":"MPS","v":-2.05,"i":1.938e-4},{"s":"MPS","v":-2.0,"i":1.935e-4},{"s":"MPS","v":-1.95,"i":1.933e-4},
      {"s":"MPS","v":-1.9,"i":1.93e-4},{"s":"MPS","v":-1.85,"i":1.925e-4},{"s":"MPS","v":-1.8,"i":1.92e-4},{"s":"MPS","v":-1.75,"i":1.918e-4},{"s":"MPS","v":-1.7,"i":1.915e-4},{"s":"MPS","v":-1.65,"i":1.913e-4},{"s":"MPS","v":-1.6,"i":1.91e-4},{"s":"MPS","v":-1.55,"i":1.905e-4},{"s":"MPS","v":-1.5,"i":1.9e-4},{"s":"MPS","v":-1.45,"i":1.895e-4},
      {"s":"MPS","v":-1.4,"i":1.89e-4},{"s":"MPS","v":-1.35,"i":1.885e-4},{"s":"MPS","v":-1.3,"i":1.88e-4},{"s":"MPS","v":-1.25,"i":1.875e-4},{"s":"MPS","v":-1.2,"i":1.87e-4},{"s":"MPS","v":-1.15,"i":1.865e-4},{"s":"MPS","v":-1.1,"i":1.86e-4},{"s":"MPS","v":-1.05,"i":1.855e-4},{"s":"MPS","v":-1.0,"i":1.85e-4},{"s":"MPS","v":-0.95,"i":1.84e-4},
      {"s":"MPS","v":-0.9,"i":1.83e-4},{"s":"MPS","v":-0.85,"i":1.82e-4},{"s":"MPS","v":-0.8,"i":1.81e-4},{"s":"MPS","v":-0.75,"i":1.795e-4},{"s":"MPS","v":-0.7,"i":1.78e-4},{"s":"MPS","v":-0.65,"i":1.765e-4},{"s":"MPS","v":-0.6,"i":1.75e-4},{"s":"MPS","v":-0.55,"i":1.73e-4},{"s":"MPS","v":-0.5,"i":1.71e-4},{"s":"MPS","v":-0.45,"i":1.685e-4},
      {"s":"MPS","v":-0.4,"i":1.66e-4},{"s":"MPS","v":-0.35,"i":1.625e-4},{"s":"MPS","v":-0.3,"i":1.59e-4},{"s":"MPS","v":-0.25,"i":1.55e-4},{"s":"MPS","v":-0.2,"i":1.51e-4},{"s":"MPS","v":-0.15,"i":1.46e-4},{"s":"MPS","v":-0.1,"i":1.41e-4},{"s":"MPS","v":-0.05,"i":1.33e-4},{"s":"MPS","v":0.0,"i":1.23e-4},{"s":"MPS","v":0.04,"i":1.11e-4},
      {"s":"MPS","v":0.08,"i":9.7e-5},{"s":"MPS","v":0.12,"i":8.5e-5},{"s":"MPS","v":0.16,"i":7.5e-5},{"s":"MPS","v":0.18,"i":7.0e-5},{"s":"MPS","v":0.2,"i":6.5e-5},{"s":"MPS","v":0.22,"i":5.9e-5},{"s":"MPS","v":0.24,"i":5.0e-5},{"s":"MPS","v":0.26,"i":4.1e-5},{"s":"MPS","v":0.28,"i":3.3e-5},{"s":"MPS","v":0.3,"i":2.6e-5},
      {"s":"MPS","v":0.32,"i":2.0e-5},{"s":"MPS","v":0.34,"i":1.6e-5},{"s":"MPS","v":0.36,"i":1.35e-5},{"s":"MPS","v":0.38,"i":1.2e-5},{"s":"MPS","v":0.42,"i":1.06e-5},{"s":"MPS","v":0.46,"i":1.95e-5},{"s":"MPS","v":0.48,"i":2.43e-5},{"s":"MPS","v":0.5,"i":2.87e-5},{"s":"MPS","v":0.52,"i":3.53e-5},{"s":"MPS","v":0.54,"i":4.35e-5},
      {"s":"MPS","v":0.56,"i":5.36e-5},{"s":"MPS","v":0.58,"i":6.41e-5},{"s":"MPS","v":0.6,"i":7.69e-5},{"s":"MPS","v":0.62,"i":9.33e-5},{"s":"MPS","v":0.64,"i":1.1e-4},{"s":"MPS","v":0.66,"i":1.3e-4},{"s":"MPS","v":0.68,"i":1.54e-4},{"s":"MPS","v":0.7,"i":1.79e-4},{"s":"MPS","v":0.72,"i":2.08e-4},{"s":"MPS","v":0.74,"i":2.4e-4},
      {"s":"MPS","v":0.76,"i":2.75e-4},{"s":"MPS","v":0.78,"i":3.16e-4},{"s":"MPS","v":0.8,"i":3.63e-4},{"s":"MPS","v":0.82,"i":4.03e-4},{"s":"MPS","v":0.84,"i":4.48e-4},{"s":"MPS","v":0.86,"i":4.93e-4},{"s":"MPS","v":0.88,"i":5.43e-4},{"s":"MPS","v":0.9,"i":5.82e-4},{"s":"MPS","v":0.92,"i":6.24e-4},{"s":"MPS","v":0.94,"i":6.73e-4},
      {"s":"MPS","v":0.96,"i":7.26e-4},{"s":"MPS","v":0.98,"i":7.8e-4},{"s":"MPS","v":1.0,"i":8.35e-4},{"s":"MPS","v":1.025,"i":9.12e-4},{"s":"MPS","v":1.05,"i":1.0e-3},{"s":"MPS","v":1.075,"i":1.087e-3},{"s":"MPS","v":1.1,"i":1.18e-3},{"s":"MPS","v":1.125,"i":1.27e-3},{"s":"MPS","v":1.15,"i":1.38e-3},{"s":"MPS","v":1.175,"i":1.49e-3},
      {"s":"MPS","v":1.2,"i":1.6e-3},{"s":"MPS","v":1.225,"i":1.73e-3},{"s":"MPS","v":1.25,"i":1.87e-3},{"s":"MPS","v":1.275,"i":2.01e-3},{"s":"MPS","v":1.3,"i":2.17e-3},{"s":"MPS","v":1.325,"i":2.34e-3},{"s":"MPS","v":1.35,"i":2.53e-3},{"s":"MPS","v":1.375,"i":2.74e-3},{"s":"MPS","v":1.4,"i":2.95e-3},{"s":"MPS","v":1.425,"i":3.14e-3},
      {"s":"MPS","v":1.45,"i":3.34e-3},{"s":"MPS","v":1.475,"i":3.53e-3},{"s":"MPS","v":1.5,"i":3.73e-3},{"s":"MPS","v":1.55,"i":4.17e-3},{"s":"MPS","v":1.6,"i":4.68e-3},{"s":"MPS","v":1.65,"i":5.19e-3},{"s":"MPS","v":1.7,"i":5.75e-3},{"s":"MPS","v":1.75,"i":6.31e-3},{"s":"MPS","v":1.8,"i":6.92e-3},{"s":"MPS","v":1.85,"i":7.59e-3},
      {"s":"MPS","v":1.9,"i":8.22e-3},{"s":"MPS","v":1.95,"i":8.91e-3},{"s":"MPS","v":2.0,"i":9.55e-3},{"s":"MPS","v":2.05,"i":1.012e-2},{"s":"MPS","v":2.1,"i":1.072e-2},{"s":"MPS","v":2.15,"i":1.127e-2},{"s":"MPS","v":2.2,"i":1.189e-2},{"s":"MPS","v":2.25,"i":1.245e-2},{"s":"MPS","v":2.3,"i":1.303e-2},{"s":"MPS","v":2.35,"i":1.361e-2},
      {"s":"MPS","v":2.4,"i":1.419e-2},{"s":"MPS","v":2.45,"i":1.479e-2},{"s":"MPS","v":2.5,"i":1.538e-2},{"s":"MPS","v":2.55,"i":1.592e-2},{"s":"MPS","v":2.6,"i":1.648e-2},{"s":"MPS","v":2.65,"i":1.706e-2},{"s":"MPS","v":2.7,"i":1.766e-2},{"s":"MPS","v":2.75,"i":1.828e-2},{"s":"MPS","v":2.8,"i":1.892e-2},{"s":"MPS","v":2.85,"i":1.945e-2},
      {"s":"MPS","v":2.9,"i":2.0e-2},{"s":"MPS","v":2.95,"i":2.056e-2},{"s":"MPS","v":3.0,"i":2.113e-2},{"s":"MPS","v":3.05,"i":2.158e-2},{"s":"MPS","v":3.1,"i":2.203e-2},{"s":"MPS","v":3.15,"i":2.249e-2},{"s":"MPS","v":3.2,"i":2.296e-2},{"s":"MPS","v":3.25,"i":2.344e-2},{"s":"MPS","v":3.3,"i":2.399e-2},{"s":"MPS","v":3.35,"i":2.432e-2},
      {"s":"MPS","v":3.4,"i":2.466e-2},{"s":"MPS","v":3.45,"i":2.5e-2},{"s":"MPS","v":3.5,"i":2.535e-2},{"s":"MPS","v":3.55,"i":2.57e-2},{"s":"MPS","v":3.6,"i":2.606e-2},{"s":"MPS","v":3.65,"i":2.642e-2},{"s":"MPS","v":3.7,"i":2.679e-2},{"s":"MPS","v":3.75,"i":2.735e-2},{"s":"MPS","v":3.8,"i":2.793e-2},{"s":"MPS","v":3.85,"i":2.831e-2},
      {"s":"MPS","v":3.9,"i":2.871e-2}
    ]
  },
  "vconcat": [
    {
      "width": 572,
      "height": 588,
      "resolve": {"axis": {"x": "independent", "y": "independent"}},
      "layer": [
        {
          "data": {"name": "a"},
          "mark": {"type": "point", "filled": true, "opacity": 1, "size": 140, "strokeWidth": 0},
          "encoding": {
            "x": {"field": "v", "type": "quantitative", "scale": {"domain": [-4, 4], "nice": false, "zero": false},
              "axis": {"orient": "bottom", "title": "V (V)", "values": [-4,-3,-2,-1,0,1,2,3,4],
                "labelExpr": "'' + datum.value", "tickSize": -7,
                "labelOverlap": false, "labelFlush": false, "labelPadding": 19, "titlePadding": 16}},
            "y": {"field": "i", "type": "quantitative", "scale": {"type": "log", "domain": [2.93e-9, 0.0251], "nice": false},
              "axis": {"orient": "left", "title": "I (A)", "values": [1e-8,1e-7,1e-6,1e-5,1e-4,1e-3,1e-2],
                "labelExpr": "'10'", "ticks": false,
                "labelFontSize": 17, "labelOverlap": false, "labelFlush": false, "labelPadding": 21, "titlePadding": 9}},
            "color": {"field": "s", "type": "nominal", "scale": {"domain": ["MS", "MPS"], "range": ["#000000", "#ff0000"]},
              "legend": {"orient": "none", "legendX": 456, "legendY": 470, "title": null, "labelFontSize": 17, "labelFontWeight": "bold", "labelColor": "#000", "symbolSize": 150, "symbolStrokeWidth": 0, "rowPadding": 9, "labelOffset": 17, "symbolOpacity": 1}},
            "shape": {"field": "s", "type": "nominal", "scale": {"domain": ["MS", "MPS"], "range": ["circle", "triangle-down"]}}
          }
        },
        {
          "data": {"name": "ea"},
          "mark": {"type": "text", "fontSize": 12, "align": "left", "baseline": "middle", "dx": -21, "dy": -3, "color": "#000"},
          "encoding": {
            "x": {"datum": -4, "axis": null},
            "y": {"field": "e", "type": "quantitative", "axis": null},
            "text": {"field": "t"}
          }
        },
        {
          "data": {"values": [{}]},
          "mark": {"type": "text", "text": "(a) In dark", "fontSize": 16, "fontWeight": "bold", "align": "left", "baseline": "middle", "color": "#000"},
          "encoding": {
            "x": {"datum": -3.2, "axis": {"orient": "bottom", "title": null, "labels": false, "domain": false, "tickSize": -4, "values": [-3.8,-3.6,-3.4,-3.2,-2.8,-2.6,-2.4,-2.2,-1.8,-1.6,-1.4,-1.2,-0.8,-0.6,-0.4,-0.2,0.2,0.4,0.6,0.8,1.2,1.4,1.6,1.8,2.2,2.4,2.6,2.8,3.2,3.4,3.6,3.8]}},
            "y": {"datum": 0.0027, "axis": {"orient": "left", "title": null, "labels": false, "domain": false,
              "values": [3e-9,4e-9,5e-9,6e-9,7e-9,8e-9,9e-9,1e-8,2e-8,3e-8,4e-8,5e-8,6e-8,7e-8,8e-8,9e-8,1e-7,2e-7,3e-7,4e-7,5e-7,6e-7,7e-7,8e-7,9e-7,1e-6,2e-6,3e-6,4e-6,5e-6,6e-6,7e-6,8e-6,9e-6,1e-5,2e-5,3e-5,4e-5,5e-5,6e-5,7e-5,8e-5,9e-5,1e-4,2e-4,3e-4,4e-4,5e-4,6e-4,7e-4,8e-4,9e-4,1e-3,2e-3,3e-3,4e-3,5e-3,6e-3,7e-3,8e-3,9e-3,1e-2,2e-2],
              "tickSize": {"condition": {"test": "abs(log(datum.value)/LN10 - round(log(datum.value)/LN10)) < 0.001", "value": -7}, "value": -4}}}
          }
        }
      ]
    },
    {
      "width": 572,
      "height": 628,
      "resolve": {"axis": {"x": "independent", "y": "independent"}},
      "layer": [
        {
          "data": {"name": "b"},
          "mark": {"type": "point", "filled": true, "opacity": 1, "size": 140, "strokeWidth": 0},
          "encoding": {
            "x": {"field": "v", "type": "quantitative", "scale": {"domain": [-4, 4], "nice": false, "zero": false},
              "axis": {"orient": "bottom", "title": "V (V)", "values": [-4,-3,-2,-1,0,1,2,3,4],
                "labelExpr": "'' + datum.value", "tickSize": -7,
                "labelOverlap": false, "labelFlush": false, "labelPadding": 23, "titlePadding": 27}},
            "y": {"field": "i", "type": "quantitative", "scale": {"type": "log", "domain": [1e-5, 0.0603], "nice": false},
              "axis": {"orient": "left", "title": "I (A)", "values": [1e-5,1e-4,1e-3,1e-2],
                "labelExpr": "'10'", "ticks": false,
                "labelFontSize": 17, "labelOverlap": false, "labelFlush": false, "labelPadding": 21, "titlePadding": 9}},
            "color": {"field": "s", "type": "nominal", "scale": {"domain": ["MS", "MPS"], "range": ["#000000", "#ff0000"]},
              "legend": {"orient": "none", "legendX": 454, "legendY": 506, "title": null, "labelFontSize": 17, "labelFontWeight": "bold", "labelColor": "#000", "symbolSize": 150, "symbolStrokeWidth": 0, "rowPadding": 9, "labelOffset": 17, "symbolOpacity": 1}},
            "shape": {"field": "s", "type": "nominal", "scale": {"domain": ["MS", "MPS"], "range": ["circle", "triangle-down"]}}
          }
        },
        {
          "data": {"name": "eb"},
          "mark": {"type": "text", "fontSize": 12, "align": "left", "baseline": "middle", "dx": -21, "dy": -3, "color": "#000"},
          "encoding": {
            "x": {"datum": -4, "axis": null},
            "y": {"field": "e", "type": "quantitative", "axis": null},
            "text": {"field": "t"}
          }
        },
        {
          "data": {"values": [{}]},
          "mark": {"type": "text", "text": "(b) Under illumination", "fontSize": 16, "fontWeight": "bold", "align": "left", "baseline": "middle", "color": "#000"},
          "encoding": {
            "x": {"datum": -3.17, "axis": {"orient": "bottom", "title": null, "labels": false, "domain": false, "tickSize": -4, "values": [-3.8,-3.6,-3.4,-3.2,-2.8,-2.6,-2.4,-2.2,-1.8,-1.6,-1.4,-1.2,-0.8,-0.6,-0.4,-0.2,0.2,0.4,0.6,0.8,1.2,1.4,1.6,1.8,2.2,2.4,2.6,2.8,3.2,3.4,3.6,3.8]}},
            "y": {"datum": 0.0177, "axis": {"orient": "left", "title": null, "labels": false, "domain": false,
              "values": [1e-5,2e-5,3e-5,4e-5,5e-5,6e-5,7e-5,8e-5,9e-5,1e-4,2e-4,3e-4,4e-4,5e-4,6e-4,7e-4,8e-4,9e-4,1e-3,2e-3,3e-3,4e-3,5e-3,6e-3,7e-3,8e-3,9e-3,1e-2,2e-2,3e-2,4e-2,5e-2],
              "tickSize": {"condition": {"test": "abs(log(datum.value)/LN10 - round(log(datum.value)/LN10)) < 0.001", "value": -7}, "value": -4}}}
          }
        }
      ]
    }
  ]
}
